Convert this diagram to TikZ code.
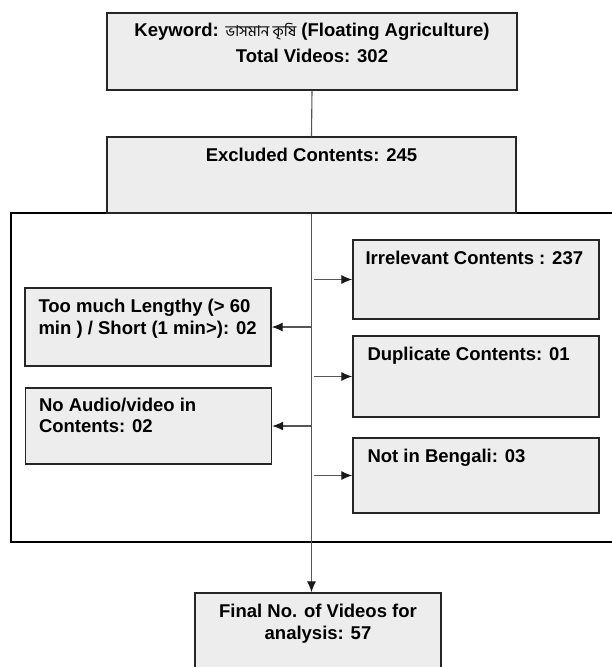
\documentclass[tikz,border=0pt]{standalone}
\usepackage{fontspec}
\setmainfont{Liberation Sans}
\newfontfamily\bnfont[Script=Bengali]{Hind Siliguri}
\usepackage{tikz}
\usetikzlibrary{arrows.meta,positioning}
\tikzset{>={Latex[length=11pt,width=9pt,color=black!90]}}
\definecolor{boxfill}{HTML}{EDEDED}
\definecolor{linegray}{HTML}{555555}

\begin{document}
\begin{tikzpicture}[x=1pt,y=-1pt,
    stage/.style={draw=black!85, line width=1.4pt, fill=boxfill, minimum width=246pt, inner sep=0pt},
    txt/.style={inner sep=0pt, font=\bfseries\fontsize{18.5}{22}\selectfont},
    link/.style={draw=linegray, line width=1.1pt}]
    \useasboundingbox (0,0) rectangle (612,667);
    %frame round the exclusions
    \draw[line width=1.3pt] (11,213) rectangle (618,542);
    %boxes
    \node[stage, minimum width=410pt, minimum height=77pt] (kw) at (312,51.5) {};
    \node[stage, minimum width=409pt, minimum height=76pt] (excl) at (311.5,175) {};
    \node[stage, minimum height=78pt] (long) at (148,327) {};
    \node[stage, minimum height=76pt] (audio) at (148.5,426) {};
    \node[stage, minimum height=79pt] (irr) at (476,279.5) {};
    \node[stage, minimum height=81pt] (dup) at (476,376.5) {};
    \node[stage, minimum height=75pt] (beng) at (476,475.5) {};
    \node[stage, minimum height=90pt] (fin) at (318,638) {};
    %texts
    \node[txt, anchor=base] (kwA) at ([yshift=-24pt]kw.north)
      {Keyword: {\bnfont\mdseries\fontsize{15}{18}\selectfont ভাসমান কৃষি} (Floating Agriculture)};
    \node[txt, anchor=base] (kwB) at ([yshift=-50pt]kw.north) {Total Videos: 302};
    \node[txt, anchor=base] (exclT) at ([yshift=-25pt]excl.north) {Excluded Contents: 245};
    \node[txt, anchor=base west] (longA) at ([shift={(14pt,-25pt)}]long.north west) {Too much Lengthy (> 60};
    \node[txt, anchor=base west] (longB) at ([shift={(14pt,-47pt)}]long.north west) {min ) / Short (1 min>): 02};
    \node[txt, anchor=base west] (audioA) at ([shift={(14pt,-24pt)}]audio.north west) {No Audio/video in};
    \node[txt, anchor=base west] (audioB) at ([shift={(14pt,-45pt)}]audio.north west) {Contents: 02};
    \node[txt, anchor=base west] (irrT) at ([shift={(13pt,-25pt)}]irr.north west) {Irrelevant Contents : 237};
    \node[txt, anchor=base west] (dupT) at ([shift={(15pt,-25pt)}]dup.north west) {Duplicate Contents: 01};
    \node[txt, anchor=base west] (bengT) at ([shift={(15pt,-25pt)}]beng.north west) {Not in Bengali: 03};
    \node[txt, anchor=base] (finA) at ([yshift=-25pt]fin.north) {Final No. of Videos for};
    \node[txt, anchor=base] (finB) at ([yshift=-47pt]fin.north) {analysis: 57};
    %connectors
    \draw[link] (kw.south) -- (excl.north);
    \draw[link,->] (excl.south) -- (excl.south |- fin.north);
    \draw[link,->] (excl.south |- long.east) -- (long.east);
    \draw[link,->] (excl.south |- audio.east) -- (audio.east);
    \draw[link,->] ([xshift=2pt]excl.south |- irr.west) -- (irr.west);
    \draw[link,->] ([xshift=2pt]excl.south |- dup.west) -- (dup.west);
    \draw[link,->] ([xshift=2pt]excl.south |- beng.west) -- (beng.west);
\end{tikzpicture}
\end{document}
